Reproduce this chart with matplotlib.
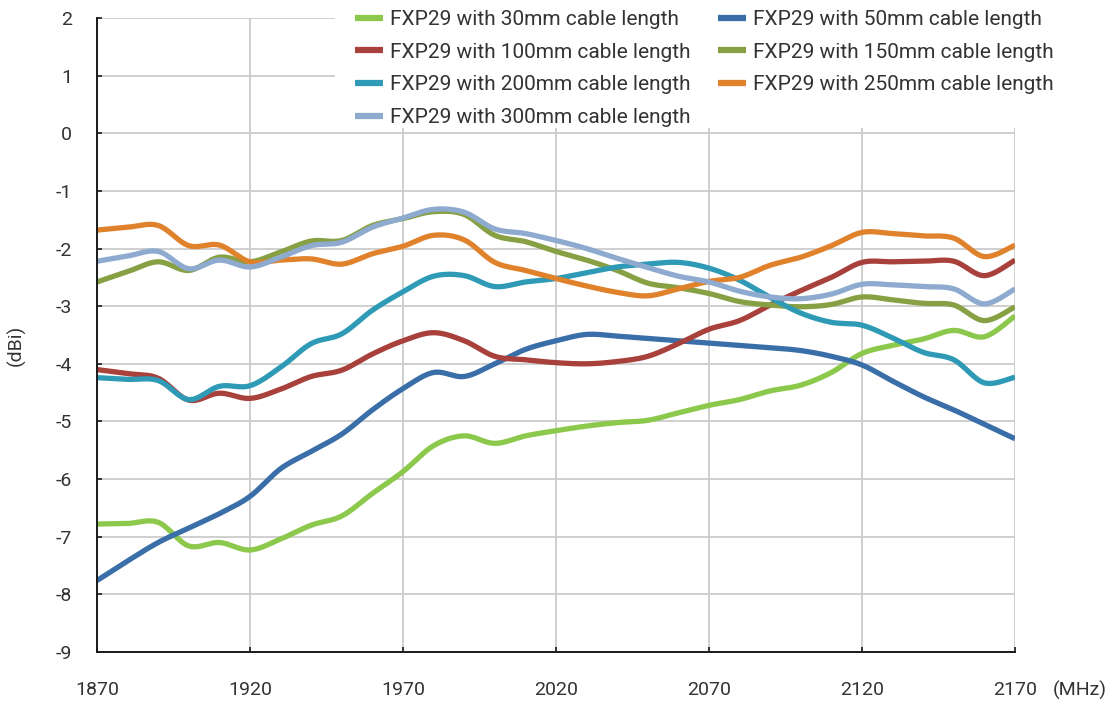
import numpy as np
import matplotlib
matplotlib.use("Agg")
import matplotlib.pyplot as plt
from matplotlib.patches import Rectangle

plt.rcParams['font.family'] = ['Roboto', 'DejaVu Sans']

freq = list(range(1870, 2171, 10))

s30 = [-6.78, -6.77, -6.75, -7.16, -7.10, -7.23, -7.04, -6.80, -6.64, -6.25, -5.87,
       -5.42, -5.25, -5.38, -5.25, -5.16, -5.08, -5.02, -4.98, -4.85, -4.72,
       -4.62, -4.47, -4.37, -4.15, -3.82, -3.68, -3.57, -3.42, -3.53, -3.17]
s50 = [-7.76, -7.42, -7.10, -6.85, -6.60, -6.30, -5.82, -5.52, -5.22, -4.80, -4.43,
       -4.15, -4.22, -4.00, -3.75, -3.60, -3.49, -3.52, -3.56, -3.60, -3.64,
       -3.68, -3.72, -3.77, -3.87, -4.02, -4.30, -4.57, -4.80, -5.05, -5.30]
s100 = [-4.10, -4.17, -4.25, -4.63, -4.51, -4.60, -4.44, -4.22, -4.11, -3.83, -3.60,
        -3.46, -3.60, -3.87, -3.93, -3.98, -4.00, -3.96, -3.87, -3.65, -3.40,
        -3.25, -2.98, -2.73, -2.50, -2.24, -2.23, -2.22, -2.22, -2.47, -2.20]
s150 = [-2.58, -2.40, -2.23, -2.38, -2.15, -2.23, -2.06, -1.87, -1.86, -1.60, -1.48,
        -1.36, -1.41, -1.77, -1.88, -2.05, -2.20, -2.38, -2.60, -2.68, -2.78,
        -2.92, -2.98, -3.01, -2.97, -2.84, -2.89, -2.95, -2.98, -3.25, -3.01]
s200 = [-4.24, -4.27, -4.29, -4.62, -4.39, -4.38, -4.06, -3.65, -3.48, -3.07, -2.75,
        -2.48, -2.47, -2.66, -2.58, -2.52, -2.42, -2.32, -2.27, -2.24, -2.34,
        -2.55, -2.85, -3.12, -3.28, -3.33, -3.55, -3.80, -3.93, -4.33, -4.23]
s250 = [-1.68, -1.63, -1.60, -1.95, -1.94, -2.23, -2.20, -2.18, -2.27, -2.09, -1.96,
        -1.77, -1.85, -2.24, -2.38, -2.52, -2.65, -2.76, -2.82, -2.70, -2.57,
        -2.50, -2.29, -2.15, -1.95, -1.72, -1.74, -1.78, -1.82, -2.14, -1.94]
s300 = [-2.22, -2.13, -2.05, -2.35, -2.20, -2.32, -2.15, -1.95, -1.89, -1.63, -1.47,
        -1.32, -1.37, -1.66, -1.74, -1.86, -2.00, -2.17, -2.33, -2.48, -2.58,
        -2.74, -2.84, -2.87, -2.79, -2.62, -2.63, -2.66, -2.70, -2.96, -2.70]

labels = ["FXP29 with 30mm cable length", "FXP29 with 50mm cable length",
          "FXP29 with 100mm cable length", "FXP29 with 150mm cable length",
          "FXP29 with 200mm cable length", "FXP29 with 250mm cable length",
          "FXP29 with 300mm cable length"]
colors = ["#8cc84b", "#3a6ea8", "#a8403b", "#86a043", "#2e9ab6", "#e0822c", "#8eaacf"]
series = [s30, s50, s100, s150, s200, s250, s300]

xticks = [1870, 1920, 1970, 2020, 2070, 2120, 2170]
yticks = list(range(-9, 3))


def smooth(x, y, n=20):
    x = np.asarray(x, float); y = np.asarray(y, float)
    xp = np.concatenate([[x[0]], x, [x[-1]]])
    yp = np.concatenate([[y[0]], y, [y[-1]]])
    xs, ys = [], []
    t = np.linspace(0, 1, n, endpoint=False)
    for i in range(1, len(xp) - 2):
        p0, p1, p2, p3 = yp[i-1], yp[i], yp[i+1], yp[i+2]
        q0, q1, q2, q3 = xp[i-1], xp[i], xp[i+1], xp[i+2]
        c1 = p1 + (p2 - p0) / 6.0
        c2 = p2 - (p3 - p1) / 6.0
        d1 = q1 + (q2 - q0) / 6.0
        d2 = q2 - (q3 - q1) / 6.0
        b = lambda a, b1, b2, c: ((1-t)**3)*a + 3*((1-t)**2)*t*b1 + 3*(1-t)*t*t*b2 + t**3*c
        xs.append(b(q1, d1, d2, q2)); ys.append(b(p1, c1, c2, p2))
    xs.append([x[-1]]); ys.append([y[-1]])
    return np.concatenate(xs), np.concatenate(ys)


fig = plt.figure(figsize=(11.19, 7.04), dpi=100)
W, H = 1119, 704
L, R, T, B = 97, 1015, 18, 652
ax = fig.add_axes([L / W, 1 - B / H, (R - L) / W, (B - T) / H])

handles = []
for s, c, lab in zip(series, colors, labels):
    xs, ys = smooth(freq, s)
    h, = ax.plot(xs, ys, color=c, lw=3.8, solid_capstyle='butt', label=lab, zorder=3)
    handles.append(h)

ax.set_xlim(1870, 2170)
ax.set_ylim(-9, 2)
ax.set_xticks(xticks)
ax.set_yticks(yticks)
ax.set_xticklabels([str(v) for v in xticks])
ax.set_yticklabels([str(v) for v in yticks])
ax.grid(True, color="#cccccc", lw=1.3, zorder=0)
ax.set_axisbelow(True)
for sp in ['top', 'right']:
    ax.spines[sp].set_visible(False)
for sp in ['left', 'bottom']:
    ax.spines[sp].set_color('#1a1a1a')
    ax.spines[sp].set_linewidth(1.4)
    ax.spines[sp].set_zorder(4)
ax.tick_params(axis='both', direction='in', length=3.5, width=1.2, color='#1a1a1a',
               labelsize=14, labelcolor='#333333')
ax.tick_params(axis='y', pad=18)
ax.tick_params(axis='x', pad=21)

# white area behind legend
ax.add_patch(Rectangle(((335 - L) / (R - L), 1 - (128 - T) / (B - T)),
                       (1030 - 335) / (R - L), (128 - T) / (B - T) + 0.05,
                       transform=ax.transAxes, facecolor='white', edgecolor='none',
                       zorder=1, clip_on=False))

order = [0, 2, 4, 6, 1, 3, 5]
leg = fig.legend([handles[i] for i in order], [labels[i] for i in order],
                 loc='upper left', bbox_to_anchor=(355 / W, 1 - 10 / H), ncol=2,
                 frameon=False, fontsize=15, handlelength=1.35, handletextpad=0.35,
                 columnspacing=1.3, labelspacing=0.66, borderpad=0, borderaxespad=0)
for t in leg.get_texts():
    t.set_color('#333333')
for lh in leg.legend_handles:
    lh.set_linewidth(4.5)

fig.text(1080 / W, 1 - 690 / H, "(MHz)", ha='center', va='center', fontsize=14, color='#333333')
fig.text(16 / W, 1 - 345 / H, "(dBi)", ha='center', va='center', rotation=90,
         fontsize=14, color='#333333')

fig.savefig("out.png", dpi=100)
